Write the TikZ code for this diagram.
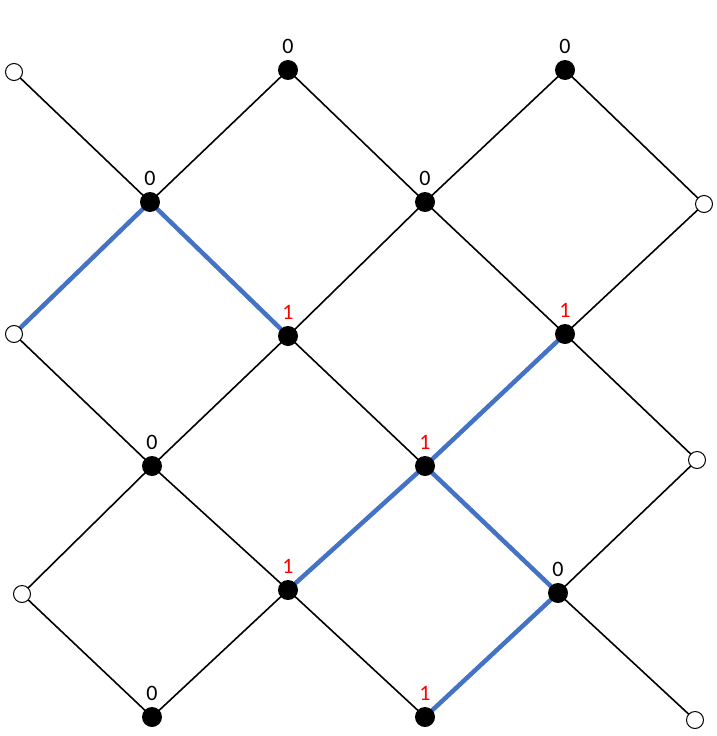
\documentclass[tikz,border=0pt]{standalone}
\usepackage{fontspec}
\setmainfont{Carlito}
\begin{document}
\begin{tikzpicture}[x=1pt,y=-1pt,
  bk/.style={circle,fill=black,inner sep=0pt,minimum size=20pt},
  wh/.style={circle,draw=black,fill=white,inner sep=0pt,minimum size=17pt,line width=1pt},
  ed/.style={line width=1.6pt},
  bl/.style={line width=4.5pt,draw={rgb,255:red,68;green,114;blue,196}},
  lb/.style={font=\fontsize{22}{24}\selectfont},
  lr/.style={font=\fontsize{22}{24}\selectfont,text=red}]
\useasboundingbox (0,0) rectangle (717,736);
\coordinate (o1) at (14,72); \coordinate (o2) at (704,204); \coordinate (o3) at (14,334);
\coordinate (o4) at (697,460); \coordinate (o5) at (22,594); \coordinate (o6) at (695,720);
\coordinate (a) at (288,70); \coordinate (b) at (565,70); \coordinate (c) at (150,202);
\coordinate (d) at (425,202); \coordinate (e) at (288,336); \coordinate (f) at (565,334);
\coordinate (g) at (152,466); \coordinate (h) at (425,466); \coordinate (i) at (288,590);
\coordinate (j) at (558,593); \coordinate (k) at (152,717); \coordinate (l) at (425,717);
\draw[ed] (o1)--(c) (c)--(a) (a)--(d) (d)--(b) (b)--(o2) (o2)--(f) (d)--(f) (d)--(e)
 (o3)--(g) (e)--(g) (e)--(h) (f)--(o4) (o4)--(j) (g)--(o5) (g)--(i) (o5)--(k) (k)--(i) (i)--(l) (j)--(o6);
\draw[bl] (o3)--(c) (c)--(e) (f)--(h) (h)--(i) (h)--(j) (j)--(l);
\foreach \n in {o1,o2,o3,o4,o5,o6} \node[wh] (n\n) at (\n) {};
\foreach \n in {a,b,c,d,e,f,g,h,i,j,k,l} \node[bk] (n\n) at (\n) {};
\foreach \n in {a,b,c,d,g,j,k} \node[lb,above=3pt] (t\n) at (n\n.north) {0};
\foreach \n in {e,f,h,i,l} \node[lr,above=3pt] (t\n) at (n\n.north) {1};
\end{tikzpicture}
\end{document}
